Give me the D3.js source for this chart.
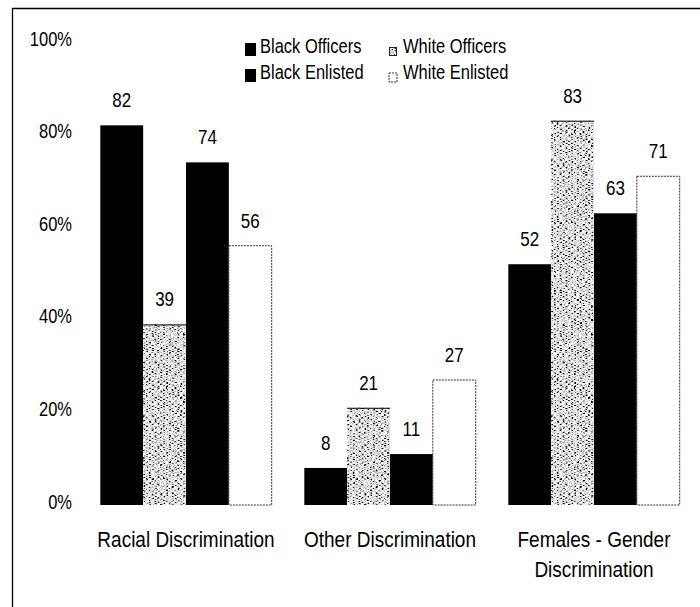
<!DOCTYPE html>
<html>
<head>
<meta charset="utf-8">
<style>
body { margin: 0; background: #fff; }
#chart text { font-family: "Liberation Sans", Arial, sans-serif; fill: #000; }
</style>
<script src="https://cdn.jsdelivr.net/npm/d3@7"></script>
</head>
<body>
<div id="chart"></div>
<script>
// survey results, percent
var categories = ["Racial Discrimination", "Other Discrimination", "Females - Gender Discrimination"];
var seriesNames = ["Black Officers", "White Officers", "Black Enlisted", "White Enlisted"];
var blackOfficers = [82, 8, 52];
var whiteOfficers = [39, 21, 83];
var blackEnlisted = [74, 11, 63];
var whiteEnlisted = [56, 27, 71];
var yTicks = [0, 20, 40, 60, 80, 100];

var seriesValues = [blackOfficers, whiteOfficers, blackEnlisted, whiteEnlisted];
var rows = categories.map(function(c, i) {
  return { cat: c, vals: seriesNames.map(function(s, j) { return { name: s, value: seriesValues[j][i] }; }) };
});

var W = 700, H = 607;
var stretch = 1.18; // the scan is taller than it is wide

var svg = d3.select("#chart").append("svg")
  .attr("width", W).attr("height", H);

var defs = svg.append("defs");
var f = defs.append("filter").attr("id", "stipple")
  .attr("x", 0).attr("y", 0).attr("width", 1).attr("height", 1);
f.append("feTurbulence").attr("type", "fractalNoise")
  .attr("baseFrequency", "0.35 1.0").attr("numOctaves", 2).attr("seed", 7).attr("result", "n");
f.append("feColorMatrix").attr("in", "n").attr("type", "matrix")
  .attr("values", "4.5 0 0 0 -1.5  4.5 0 0 0 -1.5  4.5 0 0 0 -1.5  0 0 0 0 1").attr("result", "g");
f.append("feComposite").attr("in", "g").attr("in2", "SourceGraphic").attr("operator", "in");

// frame
svg.append("path")
  .attr("d", "M12.5," + (H + 5) + "V8.5H" + (W + 5))
  .attr("fill", "none").attr("stroke", "#000").attr("stroke-width", 1.3);

var x0 = d3.scaleBand().domain(categories).range([84, 696]).paddingInner(0.16).paddingOuter(0.08);
var x1 = d3.scaleBand().domain(seriesNames).range([0, x0.bandwidth()]);
var y = d3.scaleLinear().domain([0, 100]).range([505, 42]);

// y axis
var yAxis = svg.append("g").attr("transform", "translate(72,0)")
  .call(d3.axisLeft(y).tickValues(yTicks).tickSize(0).tickPadding(0).tickFormat(function(d) { return d + "%"; }));
yAxis.select(".domain").remove();
yAxis.selectAll("text")
  .attr("font-size", 16.5).attr("dy", null).attr("y", 0)
  .attr("transform", "translate(0,3) scale(1," + stretch + ")")
  .style("font-family", "'Liberation Sans', Arial, sans-serif");

function barStyle(sel, name) {
  if (name === "Black Officers" || name === "Black Enlisted") {
    sel.attr("fill", "#000");
  } else if (name === "White Officers") {
    sel.attr("fill", "#000").attr("filter", "url(#stipple)");
  } else {
    sel.attr("fill", "#fff").attr("stroke", "#333").attr("stroke-width", 1).attr("stroke-dasharray", "2,1");
  }
}

var groups = svg.append("g").selectAll("g.grp").data(rows).join("g")
  .attr("class", "grp")
  .attr("transform", function(d) { return "translate(" + x0(d.cat) + ",0)"; });

groups.selectAll("rect.bar").data(function(d) { return d.vals; }).join("rect")
  .attr("class", "bar")
  .attr("x", function(d) { return x1(d.name); })
  .attr("y", function(d) { return y(d.value); })
  .attr("width", x1.bandwidth())
  .attr("height", function(d) { return y(0) - y(d.value); })
  .each(function(d) { barStyle(d3.select(this), d.name); });

// thin top edge on the stippled bars
groups.selectAll("line.edge").data(function(d) { return d.vals.filter(function(v) { return v.name === "White Officers"; }); }).join("line")
  .attr("class", "edge")
  .attr("x1", function(d) { return x1(d.name); })
  .attr("x2", function(d) { return x1(d.name) + x1.bandwidth(); })
  .attr("y1", function(d) { return y(d.value) + 0.5; })
  .attr("y2", function(d) { return y(d.value) + 0.5; })
  .attr("stroke", "#000").attr("stroke-width", 1);

groups.selectAll("text.val").data(function(d) { return d.vals; }).join("text")
  .attr("class", "val")
  .attr("text-anchor", "middle")
  .attr("font-size", 17)
  .attr("transform", function(d) {
    return "translate(" + (x1(d.name) + x1.bandwidth() / 2) + "," + (y(d.value) - 18) + ") scale(1," + stretch + ")";
  })
  .text(function(d) { return d.value; });

// category labels
var xAxis = svg.append("g").attr("transform", "translate(0,505)")
  .call(d3.axisBottom(x0).tickSize(0).tickPadding(0));
xAxis.select(".domain").remove();
xAxis.selectAll("text").each(function(d) {
  var t = d3.select(this);
  t.attr("y", 0).attr("dy", null).attr("font-size", 19)
    .style("font-family", "'Liberation Sans', Arial, sans-serif")
    .attr("transform", "translate(0,42) scale(1,1.12)").text(null);
  var words = d.split(" "), line = [], lines = [];
  var probe = t.append("tspan");
  words.forEach(function(w) {
    probe.text(line.concat([w]).join(" "));
    if (probe.node().getComputedTextLength() > x0.step() - 10 && line.length) {
      lines.push(line.join(" "));
      line = [w];
    } else {
      line.push(w);
    }
  });
  lines.push(line.join(" "));
  probe.remove();
  lines.forEach(function(l, i) {
    t.append("tspan").attr("x", 0).attr("dy", i ? 27 : 0).text(l);
  });
});

// legend
var legendPos = [
  { x: 245, y: 43, w: 11, h: 13, tx: 260, ty: 53 },
  { x: 389, y: 47, w: 8, h: 9, tx: 403, ty: 53 },
  { x: 245, y: 69, w: 11, h: 13, tx: 260, ty: 79 },
  { x: 389, y: 73, w: 8, h: 9, tx: 403, ty: 79 }
];
var legend = svg.append("g").selectAll("g").data(seriesNames).join("g");
legend.append("rect")
  .attr("x", function(d, i) { return legendPos[i].x; })
  .attr("y", function(d, i) { return legendPos[i].y; })
  .attr("width", function(d, i) { return legendPos[i].w; })
  .attr("height", function(d, i) { return legendPos[i].h; })
  .each(function(d) { barStyle(d3.select(this), d); });
// outline for the small stippled key
legend.filter(function(d) { return d === "White Officers"; }).append("rect")
  .attr("x", legendPos[1].x + 0.5).attr("y", legendPos[1].y + 0.5)
  .attr("width", legendPos[1].w - 1).attr("height", legendPos[1].h - 1)
  .attr("fill", "none").attr("stroke", "#222").attr("stroke-width", 1);
legend.append("text")
  .attr("font-size", 16.5)
  .attr("transform", function(d, i) { return "translate(" + legendPos[i].tx + "," + legendPos[i].ty + ") scale(1," + stretch + ")"; })
  .text(function(d) { return d; });
</script>
</body>
</html>
